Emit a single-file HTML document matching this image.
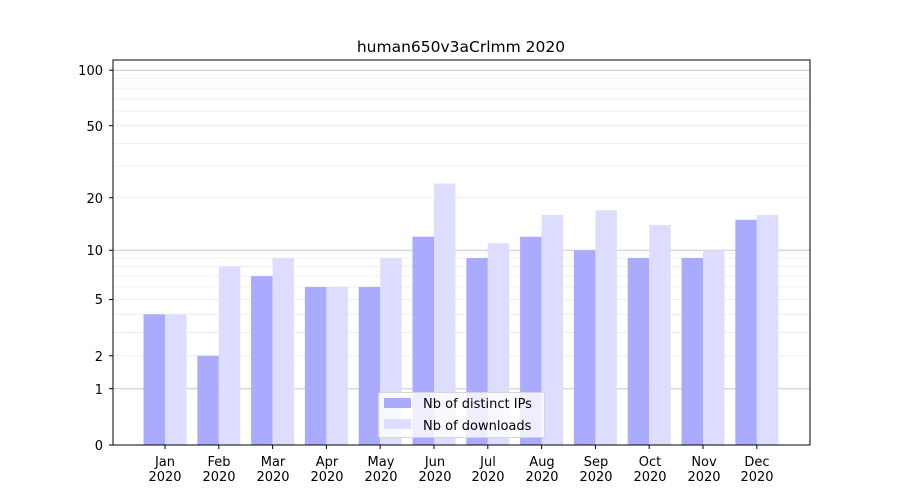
<!DOCTYPE html>
<html><head><meta charset="utf-8"><style>body{margin:0;background:#fff}svg{display:block}text{font-family:"DejaVu Sans","Liberation Sans",sans-serif;font-size:13px;fill:#000}</style></head>
<body>
<svg id="s" width="900" height="500" xmlns="http://www.w3.org/2000/svg">
<rect width="900" height="500" fill="#fff"/>
<g id="grid"></g>
<g id="bars"></g>
<rect x="113" y="60" width="697" height="385" fill="none" stroke="#000" stroke-width="1"/>
<g id="ticks"></g>
<text x="461" y="52" text-anchor="middle" style="font-size:15.5px">human650v3aCrlmm 2020</text>
<g text-anchor="end">
<text x="103" y="75">100</text><text x="103" y="131">50</text><text x="103" y="203">20</text>
<text x="103" y="255">10</text><text x="103" y="304">5</text><text x="103" y="361">2</text>
<text x="103" y="394">1</text><text x="103" y="450">0</text>
</g>
<g text-anchor="middle">
<text x="165" y="466">Jan</text><text x="165" y="481">2020</text>
<text x="219" y="466">Feb</text><text x="219" y="481">2020</text>
<text x="273" y="466">Mar</text><text x="273" y="481">2020</text>
<text x="327" y="466">Apr</text><text x="327" y="481">2020</text>
<text x="381" y="466">May</text><text x="381" y="481">2020</text>
<text x="435" y="466">Jun</text><text x="435" y="481">2020</text>
<text x="488" y="466">Jul</text><text x="488" y="481">2020</text>
<text x="542" y="466">Aug</text><text x="542" y="481">2020</text>
<text x="596" y="466">Sep</text><text x="596" y="481">2020</text>
<text x="650" y="466">Oct</text><text x="650" y="481">2020</text>
<text x="704" y="466">Nov</text><text x="704" y="481">2020</text>
<text x="757" y="466">Dec</text><text x="757" y="481">2020</text>
</g>
<rect x="378.5" y="392.5" width="166" height="45" rx="2" fill="#fff" fill-opacity="0.8" stroke="#d6d6d6"/>
<rect x="384" y="398" width="27" height="10" fill="#aaaaff"/>
<rect x="384" y="419" width="27" height="10" fill="#ddddff"/>
<text x="423" y="408">Nb of distinct IPs</text>
<text x="423" y="430">Nb of downloads</text>
</svg>
<script>
var ns="http://www.w3.org/2000/svg";
function f(v){return 445-187*Math.log10(1+v);}
function el(p,t,a){var e=document.createElementNS(ns,t);for(var k in a)e.setAttribute(k,a[k]);document.getElementById(p).appendChild(e);}
var minors=[2,3,4,5,6,7,8,9,20,30,40,50,60,70,80,90];
minors.forEach(function(v){var y=f(v);el('grid','line',{x1:113,x2:810,y1:y,y2:y,stroke:'#ebebeb','stroke-width':0.8});});
[1,10,100].forEach(function(v){var y=f(v);el('grid','line',{x1:113,x2:810,y1:y,y2:y,stroke:'#c8c8c8','stroke-width':1});});
[0,1,2,5,10,20,50,100].forEach(function(v){var y=f(v);el('ticks','line',{x1:109,x2:113,y1:y,y2:y,stroke:'#000','stroke-width':1});});
var ips=[4,2,7,6,6,12,9,12,10,9,9,15],dl=[4,8,9,6,9,24,11,16,17,14,10,16];
for(var i=0;i<12;i++){var c=165+53.8*i;
el('bars','rect',{x:c-21.5,y:f(ips[i]),width:21.5,height:445-f(ips[i]),fill:'#aaaaff'});
el('bars','rect',{x:c,y:f(dl[i]),width:21.5,height:445-f(dl[i]),fill:'#ddddff'});
el('ticks','line',{x1:c,x2:c,y1:445,y2:449,stroke:'#000','stroke-width':1});}
</script>
</body></html>
